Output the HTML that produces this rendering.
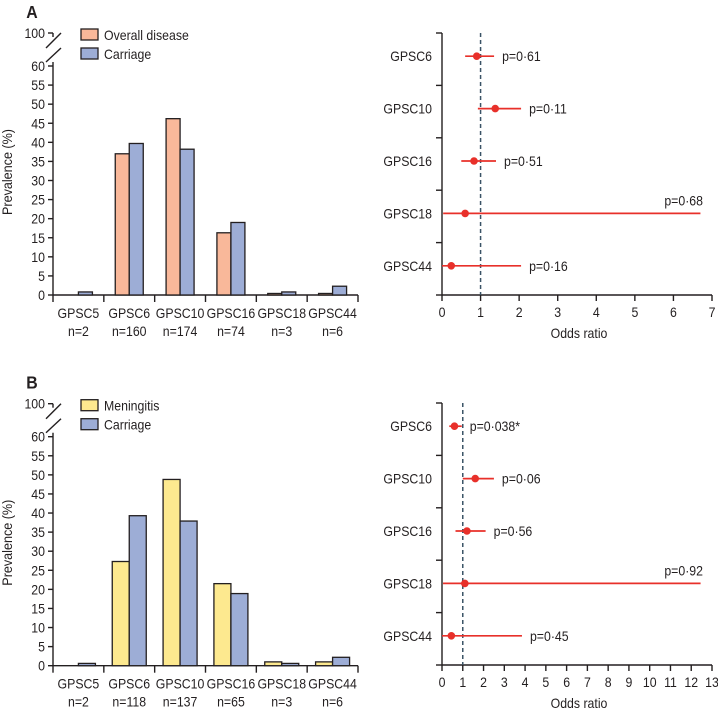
<!DOCTYPE html>
<html><head><meta charset="utf-8"><style>
html,body{margin:0;padding:0;background:#fff}
svg{display:block;font-family:"Liberation Sans",sans-serif}
</style></head><body>
<svg id="c" width="718" height="712" viewBox="0 0 718 712"></svg>
<script>
const groups=["GPSC5","GPSC6","GPSC10","GPSC16","GPSC18","GPSC44"];
const nA=["n=2","n=160","n=174","n=74","n=3","n=6"];
const nB=["n=2","n=118","n=137","n=65","n=3","n=6"];
const diseaseA=[0,37,46.2,16.3,0.4,0.4];
const carriageA=[0.8,39.7,38.2,19,0.8,2.3];
const meningB=[0,27.3,48.8,21.5,1,1];
const carriageB=[0.6,39.3,37.9,18.9,0.6,2.2];
const yTicks=[0,5,10,15,20,25,30,35,40,45,50,55,60];
const forestCats=["GPSC6","GPSC10","GPSC16","GPSC18","GPSC44"];
const orA=[0.9,1.38,0.83,0.6,0.24];
const loA=[0.6,0.93,0.5,0.03,0];
const hiA=[1.35,2.05,1.4,6.7,2.05];
const pA=["p=0·61","p=0·11","p=0·51","p=0·68","p=0·16"];
const orB=[0.6,1.6,1.2,1.1,0.45];
const loB=[0.35,1.0,0.65,0.05,0];
const hiB=[0.95,2.5,2.1,12.45,3.85];
const pB=["p=0·038*","p=0·06","p=0·56","p=0·92","p=0·45"];
const xTicksA=[0,1,2,3,4,5,6,7];
const xTicksB=[0,1,2,3,4,5,6,7,8,9,10,11,12,13];

const svg=document.getElementById('c');
const NS="http://www.w3.org/2000/svg";
function el(tag,attrs,parent){const e=document.createElementNS(NS,tag);for(const k in attrs)e.setAttribute(k,attrs[k]);(parent||svg).appendChild(e);return e;}
function txt(x,y,s,anchor,size,name,parent,extra){
  const e=el('text',{transform:`translate(${x},${y}) scale(0.88,1)`,'text-anchor':anchor||'start','font-size':size||14,fill:'#231f20'},parent);
  if(extra)for(const k in extra)e.setAttribute(k,extra[k]);
  
  
  e.textContent=s;return e;
}
const stroke='#231f20';

function barPanel(oy,s1,s2,c1,lab1,ns,bw,letter){
  const g=el('g',{});
  
  
  const x0=53,x1=358,zero=295+oy,per=(295-66)/60;
  const ys=v=>zero-v*per;
  const gw=(x1-x0)/groups.length;
  txt(32,18+oy,letter,'middle',18,'panel-label-'+letter,g,{'font-weight':'bold'});
  el('line',{x1:x0,y1:ys(60)-4,x2:x0,y2:zero,stroke:stroke,'stroke-width':1.4},g);
  el('line',{x1:48,y1:33+oy,x2:x0,y2:33+oy,stroke:stroke,'stroke-width':1.4},g);
  el('line',{x1:x0,y1:33+oy,x2:x0,y2:37+oy,stroke:stroke,'stroke-width':1.4},g);
  el('line',{x1:46,y1:48+oy,x2:61,y2:33+oy,stroke:stroke,'stroke-width':1.4},g);
  el('line',{x1:46,y1:62+oy,x2:61,y2:48+oy,stroke:stroke,'stroke-width':1.4},g);
  txt(45,38+oy,'100','end',14,'y-tick-100',g);
  yTicks.forEach(v=>{
    const y=ys(v);
    el('line',{x1:48,y1:y,x2:x0,y2:y,stroke:stroke,'stroke-width':1.4},g);
    txt(45,y+5,String(v),'end',14,'y-tick-label',g);
  });
  const yt=txt(0,0,'Prevalence (%)','middle',14,'y-axis-title',g);
  yt.setAttribute('transform',`translate(12,${172+oy}) rotate(-90) scale(0.9,1)`);
  el('line',{x1:x0,y1:zero,x2:x1,y2:zero,stroke:stroke,'stroke-width':1.4},g);
  for(let i=0;i<=groups.length;i++){
    el('line',{x1:x0+i*gw,y1:zero,x2:x0+i*gw,y2:zero+7,stroke:stroke,'stroke-width':1.4},g);
  }
  groups.forEach((c,i)=>{
    const cx=x0+(i+0.5)*gw;
    txt(cx,zero+23,c,'middle',14,'x-category-label',g);
    txt(cx,zero+41,ns[i],'middle',14,'x-n-label',g);
    [[s1[i],c1,-bw],[s2[i],'#9dadd6',0]].forEach(([v,col,off],k)=>{
      if(v<=0)return;
      const r=el('rect',{x:cx+off,y:ys(v),width:bw,height:zero-ys(v),fill:col,stroke:stroke,'stroke-width':1.3},g);
      
      
    });
  });
  [[c1,lab1,29],['#9dadd6','Carriage',48]].forEach(([col,l,y])=>{
    const r=el('rect',{x:81,y:y+oy,width:17,height:11,fill:col,stroke:stroke,'stroke-width':1.3},g);
    
    
    txt(104,y+11+oy,l,'start',14,'legend-entry',g);
  });
}

function forestPanel(oy,or,lo,hi,pl,ticks,pad,letter){
  const g=el('g',{});
  
  
  const x0=442,x1=712,top=33+oy,bot=295+oy,max=ticks[ticks.length-1];
  const xs=v=>x0+v*(x1-x0)/max;
  const rh=(bot-top)/forestCats.length;
  el('line',{x1:x0,y1:top,x2:x0,y2:bot,stroke:stroke,'stroke-width':1.4},g);
  el('line',{x1:x0,y1:bot,x2:x1,y2:bot,stroke:stroke,'stroke-width':1.4},g);
  for(let i=0;i<=forestCats.length;i++){
    el('line',{x1:x0-6,y1:top+i*rh,x2:x0,y2:top+i*rh,stroke:stroke,'stroke-width':1.4},g);
  }
  ticks.forEach(t=>{
    el('line',{x1:xs(t),y1:bot,x2:xs(t),y2:bot+6,stroke:stroke,'stroke-width':1.4},g);
    txt(xs(t),bot+22,String(t),'middle',14,'x-tick-label',g);
  });
  txt(579,bot+43,'Odds ratio','middle',14,'x-axis-title',g);
  const d=el('line',{x1:xs(1),y1:top,x2:xs(1),y2:bot,stroke:'#3a5366','stroke-width':1.5,'stroke-dasharray':'4,3'},g);
  
  
  forestCats.forEach((c,i)=>{
    const y=top+(i+0.5)*rh-3;
    txt(432,y+5,c,'end',14,'y-category-label',g);
    const l=el('line',{x1:xs(lo[i]),y1:y,x2:xs(hi[i]),y2:y,stroke:'#e8302a','stroke-width':1.7},g);
    
    
    const p=el('circle',{cx:xs(or[i]),cy:y,r:3.8,fill:'#e8302a'},g);
    
    
    if(hi[i]>max*0.6) txt(703,y-8,pl[i],'end',14,'p-value-label',g);
    else txt(xs(hi[i])+pad,y+5,pl[i],'start',14,'p-value-label',g);
  });
}

barPanel(0,diseaseA,carriageA,'#f9b89a','Overall disease',nA,14,'A');
barPanel(370.7,meningB,carriageB,'#fde98f','Meningitis',nB,17,'B');
forestPanel(0,orA,loA,hiA,pA,xTicksA,8,'A');
forestPanel(370,orB,loB,hiB,pB,xTicksB,8,'B');
</script>
</body></html>
